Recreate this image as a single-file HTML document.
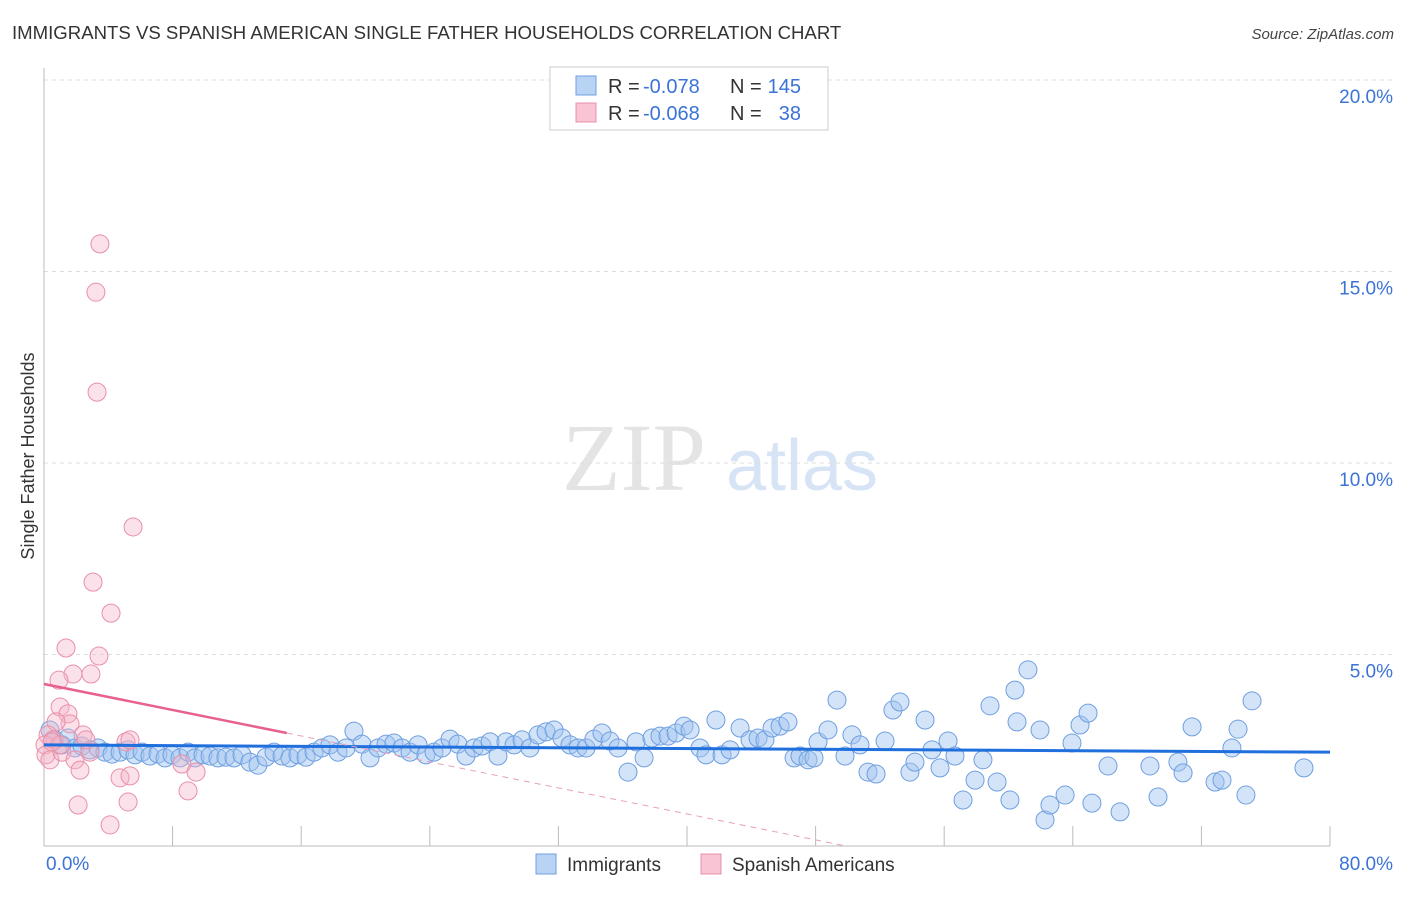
<!DOCTYPE html>
<html><head><meta charset="utf-8"><style>
body{margin:0;background:#fff;font-family:"Liberation Sans",sans-serif;}
</style></head><body>
<svg width="1406" height="892" xmlns="http://www.w3.org/2000/svg" font-family="Liberation Sans, sans-serif">
<text x="12" y="39" font-size="18.6" fill="#333">IMMIGRANTS VS SPANISH AMERICAN SINGLE FATHER HOUSEHOLDS CORRELATION CHART</text>
<text x="1394" y="39" font-size="15" fill="#444" text-anchor="end" font-style="italic">Source: ZipAtlas.com</text>
<g>
<text x="634" y="490" font-size="96" fill="#e4e4e4" text-anchor="middle" font-family="Liberation Serif, serif">ZIP</text>
<text x="802" y="490" font-size="72" fill="#d6e4f6" text-anchor="middle">atlas</text>
</g>
<g id="grid"></g>
<g id="axes"></g>
<g id="pts"></g>
<g id="trend"></g>
<text transform="translate(34,456) rotate(-90)" font-size="18" fill="#333" text-anchor="middle">Single Father Households</text>
<g>
<rect x="550" y="67" width="278" height="63" fill="#fff" stroke="#ccc"/>
<rect x="576" y="76" width="20" height="19" fill="#b9d3f5" stroke="#6f9fe0"/>
<text x="608" y="93" font-size="20" fill="#333">R =</text>
<text x="643" y="93" font-size="20" fill="#3b73d6">-0.078</text>
<text x="730" y="93" font-size="20" fill="#333">N =</text>
<text x="801" y="93" font-size="20" fill="#3b73d6" text-anchor="end">145</text>
<rect x="576" y="103" width="20" height="19" fill="#f9c5d5" stroke="#e890a8"/>
<text x="608" y="120" font-size="20" fill="#333">R =</text>
<text x="643" y="120" font-size="20" fill="#3b73d6">-0.068</text>
<text x="730" y="120" font-size="20" fill="#333">N =</text>
<text x="801" y="120" font-size="20" fill="#3b73d6" text-anchor="end">38</text>
</g>
<g>
<rect x="536" y="854" width="20" height="20" fill="#b9d3f5" stroke="#6f9fe0"/>
<text x="567" y="871" font-size="19" fill="#333">Immigrants</text>
</g>
<g>
<rect x="701" y="854" width="20" height="20" fill="#f9c5d5" stroke="#e890a8"/>
<text x="732" y="871" font-size="19" fill="#333">Spanish Americans</text>
</g>
</svg>
<script>
const blueX=[0.37,0.68,1.12,1.49,1.93,2.36,2.86,3.36,3.79,4.23,4.73,5.23,5.66,6.10,6.59,7.09,7.53,7.96,8.46,8.96,9.39,9.89,10.33,10.82,11.32,11.82,12.32,12.81,13.31,13.81,14.31,14.81,15.30,15.80,16.30,16.80,17.29,17.79,18.29,18.79,19.28,19.78,20.28,20.78,21.28,21.77,22.27,22.77,23.27,23.76,24.26,24.76,25.26,25.75,26.25,26.75,27.25,27.75,28.24,28.74,29.24,29.74,30.23,30.73,31.23,31.73,32.22,32.72,33.22,33.72,34.21,34.71,35.21,35.71,36.33,36.83,37.33,37.82,38.32,38.82,39.32,39.81,40.19,40.81,41.18,41.80,42.18,42.68,43.30,43.92,44.42,44.85,45.29,45.79,46.28,46.66,47.03,47.53,47.90,48.15,48.77,49.33,49.83,50.26,50.76,51.26,51.76,52.32,52.81,53.25,53.87,54.18,54.81,55.24,55.74,56.24,56.67,57.17,57.92,58.41,58.85,59.29,60.09,60.53,61.21,60.40,61.96,62.27,62.58,63.52,63.95,64.45,64.95,65.19,66.19,66.94,68.80,69.30,70.54,70.86,71.42,72.85,73.28,73.90,74.28,74.77,75.15,78.38];
const blueY=[3.03,2.77,2.64,2.82,2.56,2.61,2.51,2.56,2.45,2.40,2.45,2.51,2.38,2.45,2.35,2.40,2.30,2.38,2.30,2.45,2.30,2.38,2.35,2.30,2.32,2.30,2.38,2.19,2.11,2.32,2.45,2.35,2.30,2.38,2.32,2.45,2.56,2.64,2.45,2.56,3.00,2.66,2.30,2.56,2.66,2.69,2.56,2.45,2.64,2.38,2.45,2.56,2.79,2.66,2.35,2.56,2.61,2.72,2.35,2.72,2.64,2.77,2.56,2.90,2.98,3.03,2.82,2.64,2.56,2.56,2.79,2.95,2.74,2.56,1.93,2.72,2.30,2.82,2.87,2.87,2.95,3.13,3.03,2.56,2.38,3.29,2.38,2.51,3.08,2.77,2.82,2.77,3.08,3.13,3.24,2.30,2.35,2.25,2.30,2.72,3.03,3.81,2.35,2.90,2.64,1.93,1.88,2.74,3.55,3.76,1.93,2.19,3.29,2.51,2.04,2.74,2.35,1.20,1.72,2.25,3.66,1.67,1.20,3.24,4.60,4.07,3.03,0.68,1.07,1.33,2.69,3.16,3.47,1.12,2.09,0.89,2.09,1.28,2.19,1.91,3.11,1.67,1.72,2.56,3.05,1.33,3.79,2.04];
const pinkX=[3.48,3.23,3.30,5.54,3.05,4.17,1.37,3.42,1.80,2.92,0.93,1.00,1.49,1.62,0.75,2.43,0.25,0.56,0.06,0.12,0.37,1.12,1.93,2.24,2.86,5.10,5.35,4.73,5.35,5.23,2.12,4.11,8.96,8.58,9.46,1.00,0.50,2.61];
const pinkY=[15.72,14.46,11.85,8.33,6.89,6.08,5.17,4.96,4.49,4.49,4.33,3.63,3.45,3.19,3.24,2.90,2.90,2.77,2.64,2.38,2.25,2.45,2.25,1.98,2.45,2.72,2.77,1.78,1.83,1.15,1.07,0.55,1.44,2.14,1.93,2.64,2.72,2.77];
const yTicks=[5,10,15,20];
const xTickLabels=["0.0%","80.0%"];
const blueTrend=[2.64,2.45];
const pinkTrend=[4.23,-0.0848];
const NS="http://www.w3.org/2000/svg";
const sx=v=>44+v/80*1286, sy=v=>846-v/20*766;
function mk(tag,attrs,parent){const e=document.createElementNS(NS,tag);for(const k in attrs)e.setAttribute(k,attrs[k]);parent.appendChild(e);return e;}
const grid=document.getElementById('grid'),axes=document.getElementById('axes'),pts=document.getElementById('pts'),tr=document.getElementById('trend');
yTicks.forEach(t=>{
 const l=mk('line',{x1:44,x2:1394,y1:sy(t),y2:sy(t),stroke:'#ddd','stroke-dasharray':'4,4'},grid);
 
 
 const tx=mk('text',{x:1393,y:sy(t)+23,'font-size':19,fill:'#3b73d6','text-anchor':'end'},grid);
 tx.textContent=t.toFixed(1)+'%';
 
 
});
const ya=mk('line',{x1:44,x2:44,y1:68,y2:846,stroke:'#bbb'},axes);


const xa=mk('line',{x1:44,x2:1330,y1:846,y2:846,stroke:'#bbb'},axes);


for(let i=1;i<=10;i++){const t=mk('line',{x1:sx(i*8),x2:sx(i*8),y1:826,y2:846,stroke:'#bbb'},axes);
 
 }
[[0,'start',46],[80,'end',1393]].forEach((d,i)=>{const t=mk('text',{x:d[2],y:870,'font-size':19,fill:'#3b73d6','text-anchor':d[1]},axes);t.textContent=xTickLabels[i];
 
 });
blueX.forEach((x,i)=>{const c=mk('circle',{cx:sx(x),cy:sy(blueY[i]),r:9,fill:'rgba(160,196,240,0.45)',stroke:'#6f9fe0','stroke-width':1},pts);
 
 });
pinkX.forEach((x,i)=>{const c=mk('circle',{cx:sx(x),cy:sy(pinkY[i]),r:9,fill:'rgba(245,180,200,0.4)',stroke:'#e890a8','stroke-width':1},pts);
 
 });
const bt=mk('line',{x1:sx(0),y1:sy(blueTrend[0]),x2:sx(80),y2:sy(blueTrend[1]),stroke:'#1f6fdc','stroke-width':3},tr);


const pEnd=15.1,pZero=-pinkTrend[0]/pinkTrend[1];
const ps=mk('line',{x1:sx(0),y1:sy(pinkTrend[0]),x2:sx(pEnd),y2:sy(pinkTrend[0]+pinkTrend[1]*pEnd),stroke:'#e8608c','stroke-width':2.5},tr);


const pd=mk('line',{x1:sx(pEnd),y1:sy(pinkTrend[0]+pinkTrend[1]*pEnd),x2:sx(pZero),y2:sy(0),stroke:'#e8a0b8','stroke-width':1,'stroke-dasharray':'6,5'},tr);


</script>
</body></html>
